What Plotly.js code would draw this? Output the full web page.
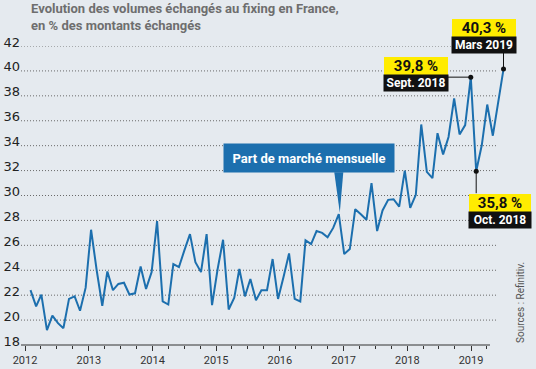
<!DOCTYPE html>
<html><head><meta charset="utf-8">
<script src="https://cdn.plot.ly/plotly-3.0.1.min.js"></script>
<style>html,body{margin:0;padding:0;background:#e5eaef;} #chart{width:536px;height:369px;}</style>
</head><body><div id="chart"></div>
<script>
// ---- data (monthly share, % of traded amounts) ----
const years = [2012, 2013, 2014, 2015, 2016, 2017, 2018, 2019];
const share2012 = [22.4, 21.1, 22.05, 19.2, 20.35, 19.75, 19.35, 21.7, 21.9, 20.75, 22.6, 27.25];
const share2013 = [24.0, 21.15, 23.9, 22.4, 22.9, 23.0, 22.05, 22.15, 24.3, 22.5, 23.85, 27.95];
const share2014 = [21.5, 21.25, 24.5, 24.25, 25.6, 26.9, 24.65, 23.85, 26.9, 21.2, 24.1, 26.45];
const share2015 = [20.85, 21.8, 24.1, 21.9, 23.3, 21.6, 22.4, 22.4, 24.9, 21.7, 23.5, 25.35];
const share2016 = [21.7, 21.5, 26.4, 26.1, 27.15, 27.0, 26.65, 27.4, 28.5, 25.3, 25.7, 28.9];
const share2017 = [28.5, 28.05, 31.0, 27.15, 28.8, 29.65, 29.7, 29.1, 32.0, 29.0, 30.05, 35.7];
const share2018 = [31.9, 31.4, 35.0, 33.3, 34.7, 37.8, 34.9, 35.65, 39.5, 31.95, 34.05, 37.3];
const share2019 = [34.8, 37.5, 40.15];
const yTicks = [18, 20, 22, 24, 26, 28, 30, 32, 34, 36, 38, 40, 42];
const yearTicks = ['2012', '2013', '2014', '2015', '2016', '2017', '2018', '2019'];
const calloutIdx = [80, 81, 86];
const calloutValue = ['39,8 %', '35,8 %', '40,3 %'];
const calloutMonth = ['Sept. 2018', 'Oct. 2018', 'Mars 2019'];
const pointerIdx = 56;
const pointerText = 'Part de marché mensuelle';
const titleText = 'Evolution des volumes échangés au fixing en France,<br>en % des montants échangés';
const sourceText = 'Sources : Refinitiv.';

// ---- build series ----
const perYear = [share2012, share2013, share2014, share2015, share2016, share2017, share2018, share2019];
const xs = [], ys = [];
const pad = n => (n < 10 ? '0' : '') + n;
perYear.forEach((arr, k) => arr.forEach((v, j) => { xs.push(years[k] + '-' + pad(j + 1) + '-01'); ys.push(v); }));

// quarterly minor ticks
const minorVals = [];
years.forEach(y => [4, 7, 10].forEach(m => { if (y < 2019 || m < 5) minorVals.push(y + '-' + pad(m) + '-01'); }));

const BLUE = '#1c6fae';
const FN = '"Liberation Sans Narrow", Roboto, "DejaVu Sans Condensed", sans-serif';

const traces = [
  {type: 'scatter', mode: 'lines', x: xs, y: ys, line: {color: BLUE, width: 2}, cliponaxis: false, hoverinfo: 'skip'},
  {type: 'scatter', mode: 'markers', x: calloutIdx.map(i => xs[i]), y: calloutIdx.map(i => ys[i]),
   marker: {color: '#111', size: 5}, cliponaxis: false, hoverinfo: 'skip'},
  {type: 'scatter', x: [], y: [], xaxis: 'x2', yaxis: 'y', hoverinfo: 'skip'}
];

const plotW = 536 - 21 - 26;
const shapes = [];
yTicks.filter(v => v > 18).forEach(v => shapes.push({
  type: 'line', xref: 'paper', yref: 'y', x0: 0, x1: 476 / plotW, y0: v, y1: v, layer: 'below',
  line: {color: '#6a6a6a', width: 1, dash: '1px,2px'}
}));
shapes.push({type: 'line', xref: 'paper', yref: 'paper', x0: 0, x1: 469 / plotW, y0: 0, y1: 0,
  line: {color: '#333', width: 1}});
// pointer triangle of the blue label
shapes.push({type: 'path', xref: 'x', yref: 'y', xsizemode: 'pixel', ysizemode: 'pixel',
  xanchor: xs[pointerIdx], yanchor: ys[pointerIdx], path: 'M -4.5,42 L 4.5,42 L 1,1.5 Z',
  fillcolor: BLUE, line: {width: 0}});
// connectors of the callouts
const conn = [[0, 0, -23, 0], [0, 0, 0, -22], [0, 0, 0, 17]];
calloutIdx.forEach((idx, k) => shapes.push({type: 'line', xref: 'x', yref: 'y', xsizemode: 'pixel', ysizemode: 'pixel',
  xanchor: xs[idx], yanchor: ys[idx], x0: conn[k][0], y0: conn[k][1], x1: conn[k][2], y1: conn[k][3],
  line: {color: '#111', width: 1}}));

const annotations = [];
annotations.push({xref: 'x', yref: 'y', x: xs[pointerIdx], y: ys[pointerIdx], showarrow: true, arrowcolor: 'rgba(0,0,0,0)',
  ax: -30, ay: -56, text: '<b>' + pointerText + '</b>', font: {family: FN, size: 13, color: '#fff'},
  bgcolor: BLUE, width: 162, height: 20, borderpad: 4, xanchor: 'center', yanchor: 'middle'});
const offs = [[-55, -11, 5.5, 60], [23.5, 31.5, 49, 58], [-20, -41.5, -24.5, 60]];
calloutIdx.forEach((idx, k) => {
  annotations.push({xref: 'x', yref: 'y', x: xs[idx], y: ys[idx], showarrow: true, arrowcolor: 'rgba(0,0,0,0)',
    ax: offs[k][0], ay: offs[k][1], text: '<b>' + calloutValue[k] + '</b>', font: {family: FN, size: 15, color: '#111'},
    bgcolor: '#ffec00', borderwidth: 0, width: offs[k][3], height: 14, borderpad: 2,
    xanchor: 'center', yanchor: 'middle'});
  annotations.push({xref: 'x', yref: 'y', x: xs[idx], y: ys[idx], showarrow: true, arrowcolor: 'rgba(0,0,0,0)',
    ax: offs[k][0], ay: offs[k][2], text: '<b>' + calloutMonth[k] + '</b>', font: {family: FN, size: 12, color: '#fff'},
    bgcolor: '#111', width: offs[k][3], height: 12, borderpad: 2, xanchor: 'center', yanchor: 'middle'});
});
annotations.push({xref: 'paper', yref: 'paper', x: (520 - 21) / plotW, y: (345 - 303) / 299, showarrow: false,
  text: sourceText, textangle: -90, font: {family: FN, size: 10, color: '#555'}, xanchor: 'center', yanchor: 'middle'});

const layout = {
  width: 536, height: 369,
  paper_bgcolor: '#e5eaef', plot_bgcolor: '#e5eaef',
  margin: {l: 21, r: 26, t: 46, b: 24, pad: 0},
  showlegend: false,
  title: {text: titleText, xref: 'container', yref: 'container', x: 31 / 536, xanchor: 'left', y: 1 - 13 / 369, yanchor: 'top',
    font: {family: FN, size: 13, color: '#6e6e6e', weight: 700}},
  xaxis: {type: 'date', range: ['2011-11-09 11:00', '2019-04-05 22:00'], showgrid: false, showticklabels: false,
    ticks: '', zeroline: false, showline: false, fixedrange: true},
  xaxis2: {type: 'date', overlaying: 'x', anchor: 'y', side: 'bottom', range: ['2011-12-09 02:00', '2019-08-12 14:00'],
    tickmode: 'array', tickvals: yearTicks.map(y => y + '-01-01'), ticktext: yearTicks,
    ticks: 'outside', ticklen: 5, tickcolor: '#333', tickwidth: 1,
    minor: {tickmode: 'array', tickvals: minorVals, ticks: 'outside', ticklen: 3, tickcolor: '#333', showgrid: false},
    showgrid: false, showline: false, zeroline: false, tickfont: {family: FN, size: 11, color: '#333'}},
  yaxis: {range: [18, 42], tickmode: 'array', tickvals: yTicks, ticktext: yTicks.map(String), showgrid: false,
    zeroline: false, ticks: '', showline: false, ticklabelshift: -4, ticklabelstandoff: 0,
    tickfont: {family: '"DejaVu Sans", sans-serif', size: 13, color: '#222'}},
  shapes: shapes,
  annotations: annotations
};
Plotly.newPlot('chart', traces, layout, {staticPlot: true, displayModeBar: false});
</script></body></html>
